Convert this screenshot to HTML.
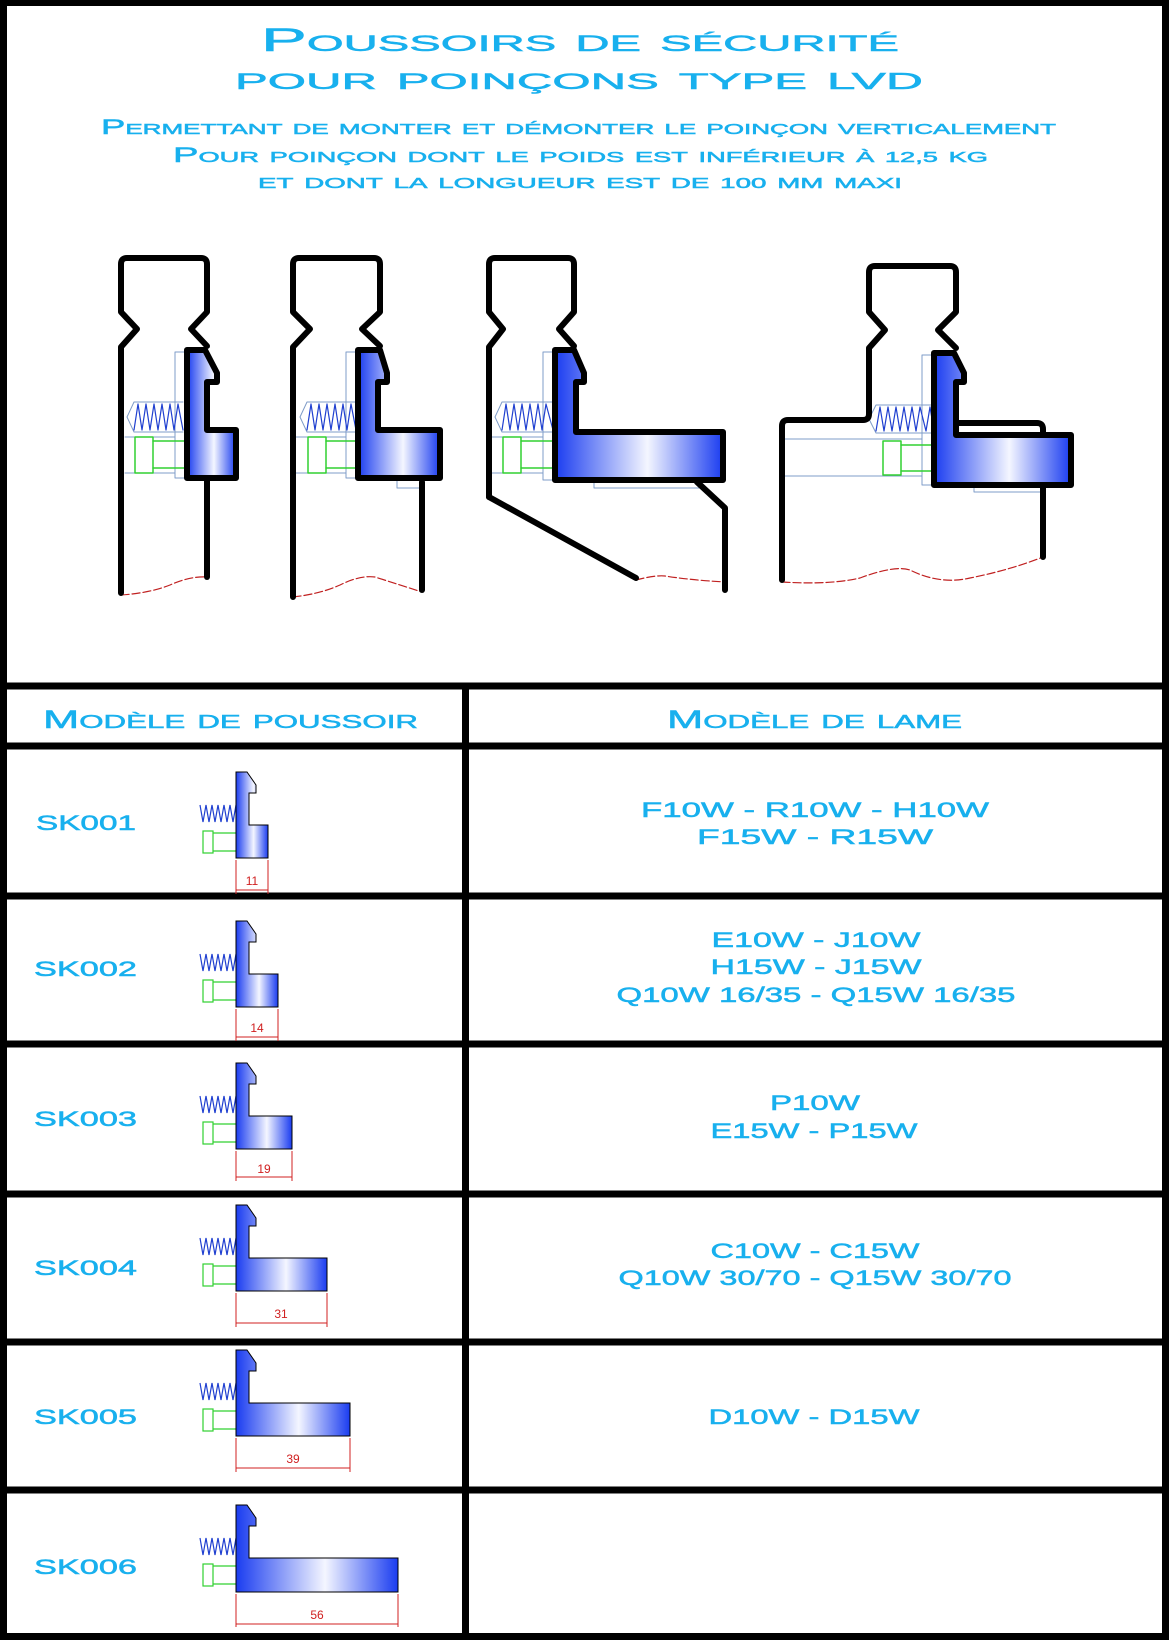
<!DOCTYPE html>
<html><head><meta charset="utf-8"><style>
html,body{margin:0;padding:0;background:#fff;}
svg{display:block;}
text{font-family:"Liberation Sans",sans-serif;fill:#18b0ee;stroke:#18b0ee;stroke-width:0.5;}
.sc{font-variant:small-caps;}
</style></head><body>
<svg width="1171" height="1640" viewBox="0 0 1171 1640" xmlns="http://www.w3.org/2000/svg">
<defs>
<linearGradient id="g" x1="0" y1="0" x2="1" y2="0">
<stop offset="0" stop-color="#1a3cf0"/><stop offset="0.55" stop-color="#f4f6ff"/><stop offset="1" stop-color="#1a3cf0"/>
</linearGradient>
</defs>
<rect x="3.5" y="2.5" width="1162" height="1634" fill="none" stroke="#000" stroke-width="7"/>
<g stroke="#000" stroke-width="7">
<line x1="0" y1="686" x2="1168" y2="686"/>
<line x1="0" y1="746" x2="1168" y2="746"/>
<line x1="0" y1="896" x2="1168" y2="896"/>
<line x1="0" y1="1044" x2="1168" y2="1044"/>
<line x1="0" y1="1194" x2="1168" y2="1194"/>
<line x1="0" y1="1342" x2="1168" y2="1342"/>
<line x1="0" y1="1490" x2="1168" y2="1490"/>
<line x1="465.5" y1="686" x2="465.5" y2="1637"/>
</g>

<!-- Titles -->
<text class="sc" x="261" y="51" font-size="32" textLength="638" lengthAdjust="spacingAndGlyphs">Poussoirs de sécurité</text>
<text class="sc" x="235" y="89" font-size="32" textLength="688" lengthAdjust="spacingAndGlyphs">pour poinçons type <tspan font-size="23">LVD</tspan></text>
<text class="sc" x="101" y="134" font-size="21" textLength="955" lengthAdjust="spacingAndGlyphs">Permettant de monter et démonter le poinçon verticalement</text>
<text class="sc" x="173" y="162" font-size="21" textLength="815" lengthAdjust="spacingAndGlyphs">Pour poinçon dont le poids est inférieur à <tspan font-size="15">12,5</tspan> kg</text>
<text class="sc" x="258" y="188" font-size="21" textLength="644" lengthAdjust="spacingAndGlyphs">et dont la longueur est de <tspan font-size="15">100</tspan> mm maxi</text>

<!-- Headers -->
<text class="sc" x="43" y="728" font-size="25" textLength="375" lengthAdjust="spacingAndGlyphs">Modèle de poussoir</text>
<text class="sc" x="667" y="728" font-size="25" textLength="295" lengthAdjust="spacingAndGlyphs">Modèle de lame</text>

<!-- Row labels -->
<g font-size="21">
<text x="36" y="830" textLength="100" lengthAdjust="spacingAndGlyphs">SK001</text>
<text x="34" y="976" textLength="103" lengthAdjust="spacingAndGlyphs">SK002</text>
<text x="34" y="1126" textLength="103" lengthAdjust="spacingAndGlyphs">SK003</text>
<text x="34" y="1275" textLength="103" lengthAdjust="spacingAndGlyphs">SK004</text>
<text x="34" y="1424" textLength="103" lengthAdjust="spacingAndGlyphs">SK005</text>
<text x="34" y="1574" textLength="103" lengthAdjust="spacingAndGlyphs">SK006</text>
</g>
<g font-size="21" text-anchor="middle">
<text x="815" y="817" textLength="348" lengthAdjust="spacingAndGlyphs">F10W - R10W - H10W</text>
<text x="815" y="844" textLength="236" lengthAdjust="spacingAndGlyphs">F15W - R15W</text>
<text x="816" y="947" textLength="209" lengthAdjust="spacingAndGlyphs">E10W - J10W</text>
<text x="816" y="974" textLength="211" lengthAdjust="spacingAndGlyphs">H15W - J15W</text>
<text x="816" y="1002" textLength="399" lengthAdjust="spacingAndGlyphs">Q10W 16/35 - Q15W 16/35</text>
<text x="815" y="1110" textLength="90" lengthAdjust="spacingAndGlyphs">P10W</text>
<text x="814" y="1138" textLength="207" lengthAdjust="spacingAndGlyphs">E15W - P15W</text>
<text x="815" y="1258" textLength="209" lengthAdjust="spacingAndGlyphs">C10W - C15W</text>
<text x="815" y="1285" textLength="393" lengthAdjust="spacingAndGlyphs">Q10W 30/70 - Q15W 30/70</text>
<text x="814" y="1424" textLength="211" lengthAdjust="spacingAndGlyphs">D10W - D15W</text>
</g>

<!-- Table icons -->
<g id="icons">
<g transform="translate(0,772)">
<polyline points="200,33 203,50 206,33 209,50 212,33 215,50 218,33 221,50 224,33 227,50 230,33 233,50 236,33" fill="none" stroke="#2040d0" stroke-width="1.2"/>
<rect x="203" y="59" width="10" height="22" fill="none" stroke="#30d030" stroke-width="1.2"/>
<path d="M213,61 H236 M213,79 H236" stroke="#30d030" stroke-width="1.2"/>
<path d="M236,0 H247 L256,13 V21 H249 V53 H268 V86 H236 Z" fill="url(#g)" stroke="#000" stroke-width="1"/>
<path d="M236,88 V122 M268,88 V122 M236,118 H268" stroke="#d02020" stroke-width="1"/>
<text x="252" y="113" font-size="12" text-anchor="middle" style="fill:#d02020;stroke:none">11</text>
</g>
<g transform="translate(0,921)">
<polyline points="200,33 203,50 206,33 209,50 212,33 215,50 218,33 221,50 224,33 227,50 230,33 233,50 236,33" fill="none" stroke="#2040d0" stroke-width="1.2"/>
<rect x="203" y="59" width="10" height="22" fill="none" stroke="#30d030" stroke-width="1.2"/>
<path d="M213,61 H236 M213,79 H236" stroke="#30d030" stroke-width="1.2"/>
<path d="M236,0 H247 L256,13 V21 H249 V53 H278 V86 H236 Z" fill="url(#g)" stroke="#000" stroke-width="1"/>
<path d="M236,88 V120 M278,88 V120 M236,116 H278" stroke="#d02020" stroke-width="1"/>
<text x="257" y="111" font-size="12" text-anchor="middle" style="fill:#d02020;stroke:none">14</text>
</g>
<g transform="translate(0,1063)">
<polyline points="200,33 203,50 206,33 209,50 212,33 215,50 218,33 221,50 224,33 227,50 230,33 233,50 236,33" fill="none" stroke="#2040d0" stroke-width="1.2"/>
<rect x="203" y="59" width="10" height="22" fill="none" stroke="#30d030" stroke-width="1.2"/>
<path d="M213,61 H236 M213,79 H236" stroke="#30d030" stroke-width="1.2"/>
<path d="M236,0 H247 L256,13 V21 H249 V53 H292 V86 H236 Z" fill="url(#g)" stroke="#000" stroke-width="1"/>
<path d="M236,88 V118 M292,88 V118 M236,114 H292" stroke="#d02020" stroke-width="1"/>
<text x="264" y="110" font-size="12" text-anchor="middle" style="fill:#d02020;stroke:none">19</text>
</g>
<g transform="translate(0,1205)">
<polyline points="200,33 203,50 206,33 209,50 212,33 215,50 218,33 221,50 224,33 227,50 230,33 233,50 236,33" fill="none" stroke="#2040d0" stroke-width="1.2"/>
<rect x="203" y="59" width="10" height="22" fill="none" stroke="#30d030" stroke-width="1.2"/>
<path d="M213,61 H236 M213,79 H236" stroke="#30d030" stroke-width="1.2"/>
<path d="M236,0 H247 L256,13 V21 H249 V53 H327 V86 H236 Z" fill="url(#g)" stroke="#000" stroke-width="1"/>
<path d="M236,88 V122 M327,88 V122 M236,118 H327" stroke="#d02020" stroke-width="1"/>
<text x="281" y="113" font-size="12" text-anchor="middle" style="fill:#d02020;stroke:none">31</text>
</g>
<g transform="translate(0,1350)">
<polyline points="200,33 203,50 206,33 209,50 212,33 215,50 218,33 221,50 224,33 227,50 230,33 233,50 236,33" fill="none" stroke="#2040d0" stroke-width="1.2"/>
<rect x="203" y="59" width="10" height="22" fill="none" stroke="#30d030" stroke-width="1.2"/>
<path d="M213,61 H236 M213,79 H236" stroke="#30d030" stroke-width="1.2"/>
<path d="M236,0 H247 L256,13 V21 H249 V53 H350 V86 H236 Z" fill="url(#g)" stroke="#000" stroke-width="1"/>
<path d="M236,88 V122 M350,88 V122 M236,118 H350" stroke="#d02020" stroke-width="1"/>
<text x="293" y="113" font-size="12" text-anchor="middle" style="fill:#d02020;stroke:none">39</text>
</g>
<g transform="translate(0,1505)">
<polyline points="200,33 203,50 206,33 209,50 212,33 215,50 218,33 221,50 224,33 227,50 230,33 233,50 236,33" fill="none" stroke="#2040d0" stroke-width="1.2"/>
<rect x="203" y="59" width="10" height="22" fill="none" stroke="#30d030" stroke-width="1.2"/>
<path d="M213,61 H236 M213,79 H236" stroke="#30d030" stroke-width="1.2"/>
<path d="M236,0 H247 L256,13 V21 H249 V53 H398 V87 H236 Z" fill="url(#g)" stroke="#000" stroke-width="1"/>
<path d="M236,89 V122 M398,89 V122 M236,119 H398" stroke="#d02020" stroke-width="1"/>
<text x="317" y="114" font-size="12" text-anchor="middle" style="fill:#d02020;stroke:none">56</text>
</g>
</g>

<!-- Top drawings -->
<g fill="none" stroke-linejoin="round" stroke-linecap="round">
<g stroke="#c02020" stroke-width="1.2" stroke-dasharray="8,3">
<path d="M121,595 Q150,593 170,585 Q190,576 207,577"/>
<path d="M293,597 Q320,594 340,585 Q360,575 375,577 Q400,585 422,592"/>
<path d="M636,580 Q655,575 665,576 Q690,580 725,582"/>
<path d="M782,582 Q830,585 860,578 Q895,565 910,570 Q940,585 970,578 Q1010,570 1043,557"/>
</g>
<g stroke="#7f9cc8" stroke-width="1">
<path d="M175,352 H187 M175,352 V478 H187 M125,437 H175 M125,473 H175"/>
<path d="M127,417 L134,402 H183 M127,417 L134,432 H183"/>
<path d="M346,352 H358 M346,352 V478 H358 M293,437 H346 M293,473 H346 M397,478 V488 H422"/>
<path d="M300,417 L307,402 H356 M300,417 L307,432 H356"/>
<path d="M543,352 H555 M543,352 V480 H555 M489,437 H543 M489,473 H543 M594,480 V488 H699"/>
<path d="M495,417 L502,402 H553 M495,417 L502,432 H553"/>
<path d="M782,439 H922 M782,476 H922 M922,355 H934 M922,355 V485 H934 M974,485 V492 H1043"/>
<path d="M869,419 L876,405 H934 M869,419 L876,433 H934"/>
</g>
<g stroke="#2040d0" stroke-width="1.2">
<polyline points="134,430 138,404 142,430 146,404 150,430 154,404 158,430 162,404 166,430 170,404 174,430 178,404 183,430"/>
<polyline points="307,430 311,404 315,430 319,404 323,430 327,404 331,430 335,404 339,430 343,404 347,430 351,404 356,430"/>
<polyline points="502,430 506,404 510,430 514,404 518,430 522,404 526,430 530,404 534,430 538,404 542,430 546,404 553,430"/>
<polyline points="876,431 880,407 884,431 888,407 892,431 896,407 900,431 904,407 908,431 912,407 916,431 920,407 926,431 930,407 934,431"/>
</g>
<g stroke="#30d030" stroke-width="1.5">
<rect x="135" y="437" width="18" height="36"/><path d="M153,441 H187 M153,468 H187"/>
<rect x="308" y="437" width="18" height="36"/><path d="M326,441 H358 M326,468 H358"/>
<rect x="503" y="437" width="18" height="36"/><path d="M521,441 H555 M521,468 H555"/>
<rect x="883" y="441" width="18" height="34"/><path d="M901,445 H934 M901,471 H934"/>
</g>
<g stroke="#000" stroke-width="6">
<path d="M121,593 V347 L137,329 L121,312 V264 Q121,258 127,258 H201 Q207,258 207,264 V312 L191,329 L207,346"/>
<path d="M207,480 V577"/>
<path d="M293,597 V347 L310,329 L293,312 V264 Q293,258 299,258 H374 Q380,258 380,264 V312 L362,329 L380,346"/>
<path d="M422,482 V590"/>
<path d="M489,497 V347 L503,329 L489,312 V264 Q489,258 495,258 H568 Q574,258 574,264 V312 L559,329 L574,346"/>
<path d="M489,497 L636,578"/>
<path d="M697,482 L725,508 V590"/>
<path d="M782,580 V426 Q782,420 788,420 H863 Q869,420 869,414 V348 L885,330 L869,312 V272 Q869,266 875,266 H950 Q956,266 956,272 V312 L938,330 L956,348"/>
<path d="M956,423 H1037 Q1043,423 1043,429 V557"/>
</g>
<g stroke="#000" stroke-width="6" fill="url(#g)">
<path d="M187,350 H205 L217,373 V382 H207 V430 H236 V478 H187 Z"/>
<path d="M358,350 H380 L387,373 V382 H378 V430 H440 V478 H358 Z"/>
<path d="M555,350 H574 L584,373 V382 H576 V432 H723 V480 H555 Z"/>
<path d="M934,353 H954 L964,373 V382 H956 V435 H1071 V485 H934 Z"/>
</g>
</g>
</svg>
</body></html>
